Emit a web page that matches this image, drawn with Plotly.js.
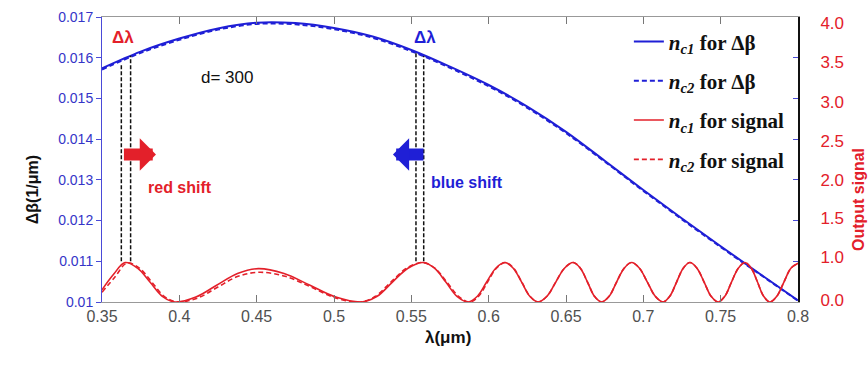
<!DOCTYPE html>
<html><head><meta charset="utf-8">
<script src="https://cdn.plot.ly/plotly-3.0.1.min.js"></script>
<style>html,body{margin:0;padding:0;background:#fff}#chart{width:868px;height:367px}</style>
</head><body><div id="chart"></div>
<script>
// wavelength grid for delta-beta curves (um)
const lamB = [0.35,0.375,0.40,0.425,0.45,0.475,0.50,0.525,0.55,0.575,0.60,0.625,0.65,0.675,0.70,0.725,0.75,0.775,0.80];
// delta beta (1/um), n_c1 and n_c2
const dBeta1 = [0.01574,0.01615,0.01647,0.01672,0.01686,0.01685,0.01673,0.01652,0.01619,0.01578,0.01533,0.01480,0.01418,0.01347,0.01275,0.01205,0.01137,0.01070,0.01004];
const dBeta2 = [0.01571,0.01612,0.01644,0.01669,0.01683,0.01682,0.01670,0.01649,0.01616,0.01575,0.01530,0.01477,0.01415,0.01345,0.01273,0.01203,0.01135,0.01069,0.01003];
// output signal, n_c1
const sigX1 = [0.350,0.3575,0.3649,0.3730,0.3810,0.3890,0.3972,0.4107,0.4241,0.4376,0.4510,0.4677,0.4845,0.5012,0.5179,0.5279,0.5378,0.5478,0.5577,0.5650,0.5723,0.5795,0.5868,0.5927,0.5987,0.6046,0.6105,0.6159,0.6213,0.6266,0.6320,0.6377,0.6434,0.6490,0.6547,0.6593,0.6639,0.6684,0.6730,0.6779,0.6827,0.6876,0.6924,0.6975,0.7026,0.7077,0.7128,0.7171,0.7215,0.7258,0.7301,0.7347,0.7393,0.7438,0.7484,0.7527,0.7570,0.7614,0.7657,0.7698,0.7738,0.7778,0.7818,0.7863,0.7909,0.7954,0.8000];
const sigY1 = [0.30,0.68,0.97,0.83,0.49,0.14,0.00,0.12,0.41,0.70,0.82,0.70,0.41,0.12,0.00,0.14,0.49,0.83,0.97,0.83,0.49,0.14,0.00,0.14,0.49,0.83,0.97,0.83,0.49,0.14,0.00,0.14,0.49,0.83,0.97,0.83,0.49,0.14,0.00,0.14,0.49,0.83,0.97,0.83,0.49,0.14,0.00,0.14,0.49,0.83,0.97,0.83,0.49,0.14,0.00,0.14,0.49,0.83,0.97,0.83,0.49,0.14,0.00,0.14,0.49,0.83,0.95];
// output signal, n_c2
const sigX2 = [0.350,0.3585,0.3662,0.3742,0.3822,0.3902,0.3985,0.4120,0.4250,0.4380,0.4520,0.4685,0.4850,0.5010,0.5165,0.5268,0.5368,0.5470,0.5572,0.5652,0.5730,0.5805,0.5878,0.5935,0.5993,0.6050,0.6108,0.6161,0.6214,0.6267,0.6320,0.6377,0.6434,0.6490,0.6547,0.6593,0.6639,0.6684,0.6730,0.6779,0.6827,0.6876,0.6924,0.6975,0.7026,0.7077,0.7128,0.7171,0.7215,0.7258,0.7301,0.7347,0.7393,0.7438,0.7484,0.7527,0.7570,0.7614,0.7657,0.7698,0.7738,0.7778,0.7818,0.7863,0.7909,0.7954,0.8000];
const sigY2 = [0.24,0.62,0.96,0.83,0.49,0.14,0.00,0.10,0.37,0.63,0.73,0.63,0.37,0.10,0.00,0.14,0.49,0.83,0.97,0.83,0.49,0.14,0.00,0.14,0.49,0.83,0.97,0.83,0.49,0.14,0.00,0.14,0.49,0.83,0.97,0.83,0.49,0.14,0.00,0.14,0.49,0.83,0.97,0.83,0.49,0.14,0.00,0.14,0.49,0.83,0.97,0.83,0.49,0.14,0.00,0.14,0.49,0.83,0.97,0.83,0.49,0.14,0.00,0.14,0.49,0.83,0.95];
// marker lines for the delta-lambda windows
const shiftLineX = [0.3625,0.3685,0.5530,0.5580];
const shiftLineTop = [0.01585,0.01605,0.01613,0.01604];
const shiftLineBottom = 0.0110;
// right axis tick labels
const rightTickVals = [0.05,1.1,2.05,3.0,3.95,4.92,5.9,6.85];
const rightTickText = ['0.0','1.0','1.5','2.0','2.5','3.0','3.5','4.0'];

const BLUE = '#1f1fd6', RED = '#e3202a', AXBLUE = '#4a4ad8';
const legFont = {family:'Liberation Serif, Times New Roman, serif', size:21, color:'#111'};

const traces = [
 {x:lamB, y:dBeta1, type:'scatter', mode:'lines', yaxis:'y', line:{color:BLUE,width:2,shape:'spline'}, legendgroup:'a',
  name:'<b><i>n</i><sub><i>c1</i></sub> for Δβ</b>'},
 {x:lamB, y:dBeta2, type:'scatter', mode:'lines', yaxis:'y', line:{color:BLUE,width:2,dash:'5px,3px',shape:'spline'}, legendgroup:'b',
  name:'<b><i>n</i><sub><i>c2</i></sub> for Δβ</b>'},
 {x:sigX1, y:sigY1, type:'scatter', mode:'lines', yaxis:'y2', line:{color:RED,width:1.6,shape:'spline'}, legendgroup:'c',
  name:'<b><i>n</i><sub><i>c1</i></sub> for signal</b>'},
 {x:sigX2, y:sigY2, type:'scatter', mode:'lines', yaxis:'y2', line:{color:RED,width:1.6,dash:'5px,3px',shape:'spline'}, legendgroup:'d',
  name:'<b><i>n</i><sub><i>c2</i></sub> for signal</b>'},
 {x:[0.35,0.8], y:[0.01,0.017], type:'scatter', mode:'none', yaxis:'y3', showlegend:false, hoverinfo:'skip'}
];

const shapes = shiftLineX.map((x,i)=>({type:'line', xref:'x', yref:'y', x0:x, x1:x, y0:shiftLineBottom, y1:shiftLineTop[i],
  line:{color:'#111', width:1.5, dash:'4px,2px'}}));

const annotations = [
 {xref:'x', yref:'y', x:0.3636, y:0.01650, text:'<b>Δλ</b>', showarrow:false, font:{size:17,color:RED}},
 {xref:'x', yref:'y', x:0.5588, y:0.01650, text:'<b>Δλ</b>', showarrow:false, font:{size:17,color:BLUE}},
 {xref:'x', yref:'y', x:0.4308, y:0.01552, text:'d= 300', showarrow:false, font:{size:17,color:'#111'}},
 {xref:'x', yref:'y', x:0.4004, y:0.01281, text:'<b>red shift</b>', showarrow:false, font:{size:16,color:RED}},
 {xref:'x', yref:'y', x:0.5859, y:0.01294, text:'<b>blue shift</b>', showarrow:false, font:{size:16,color:BLUE}},
 {xref:'x', yref:'y', axref:'x', ayref:'y', x:0.3849, y:0.013624, ax:0.3632, ay:0.013624, text:'', showarrow:true,
  arrowhead:1, arrowwidth:12, arrowsize:0.45, arrowcolor:RED, standoff:0, startstandoff:0},
 {xref:'x', yref:'y', axref:'x', ayref:'y', x:0.5381, y:0.013624, ax:0.5588, ay:0.013624, text:'', showarrow:true,
  arrowhead:1, arrowwidth:12, arrowsize:0.45, arrowcolor:BLUE, standoff:0, startstandoff:0},
 {xref:'paper', yref:'paper', x:-0.115, y:0.394, text:'<b>Δβ(1/μm)</b>', textangle:-90, showarrow:false, font:{size:16,color:'#111'}},
 {xref:'paper', yref:'paper', x:0.497, y:-0.166, text:'<b>λ(μm)</b>', showarrow:false, font:{size:17,color:'#111'}},
 {xref:'paper', yref:'paper', x:1.086, y:0.173, xanchor:'center', text:'<b>Output signal</b>', textangle:-90, showarrow:false, font:{size:16,color:RED}}
];

const layout = {
 width:868, height:367, margin:{l:102, r:70, t:17, b:65},
 paper_bgcolor:'#fff', plot_bgcolor:'#fff',
 font:{family:'Liberation Sans, Arial, sans-serif'},
 showlegend:true,
 legend:{x:0.757, y:0.985, xanchor:'left', yanchor:'top', bgcolor:'rgba(0,0,0,0)', font:legFont, tracegroupgap:9},
 xaxis:{range:[0.35,0.8], tickvals:[0.35,0.4,0.45,0.5,0.55,0.6,0.65,0.7,0.75,0.8], ticks:'inside', ticklen:7, tickcolor:'#777',
   showline:true, linecolor:'#999', linewidth:1, mirror:'ticks', showgrid:false, zeroline:false,
   tickfont:{size:16,color:'#505050'}},
 yaxis:{range:[0.01,0.017], dtick:0.001, tick0:0.01, ticks:'outside', ticklen:5, tickcolor:AXBLUE, showline:true, linecolor:AXBLUE,
   showgrid:false, zeroline:false, tickfont:{size:14,color:'#3535c8'}},
 yaxis2:{range:[0,7], overlaying:'y', side:'right', tickvals:rightTickVals, ticktext:rightTickText, ticks:'', showline:true,
   linecolor:'#111', linewidth:2, showgrid:false, zeroline:false, tickfont:{size:17,color:RED}, ticklabelstandoff:17},
 yaxis3:{range:[0.01,0.017], dtick:0.001, tick0:0.01, overlaying:'y', side:'right', ticks:'inside', ticklen:5, tickcolor:AXBLUE,
   showticklabels:false, showline:false, showgrid:false, zeroline:false},
 shapes:shapes, annotations:annotations
};
Plotly.newPlot('chart', traces, layout, {staticPlot:true});
</script></body></html>
